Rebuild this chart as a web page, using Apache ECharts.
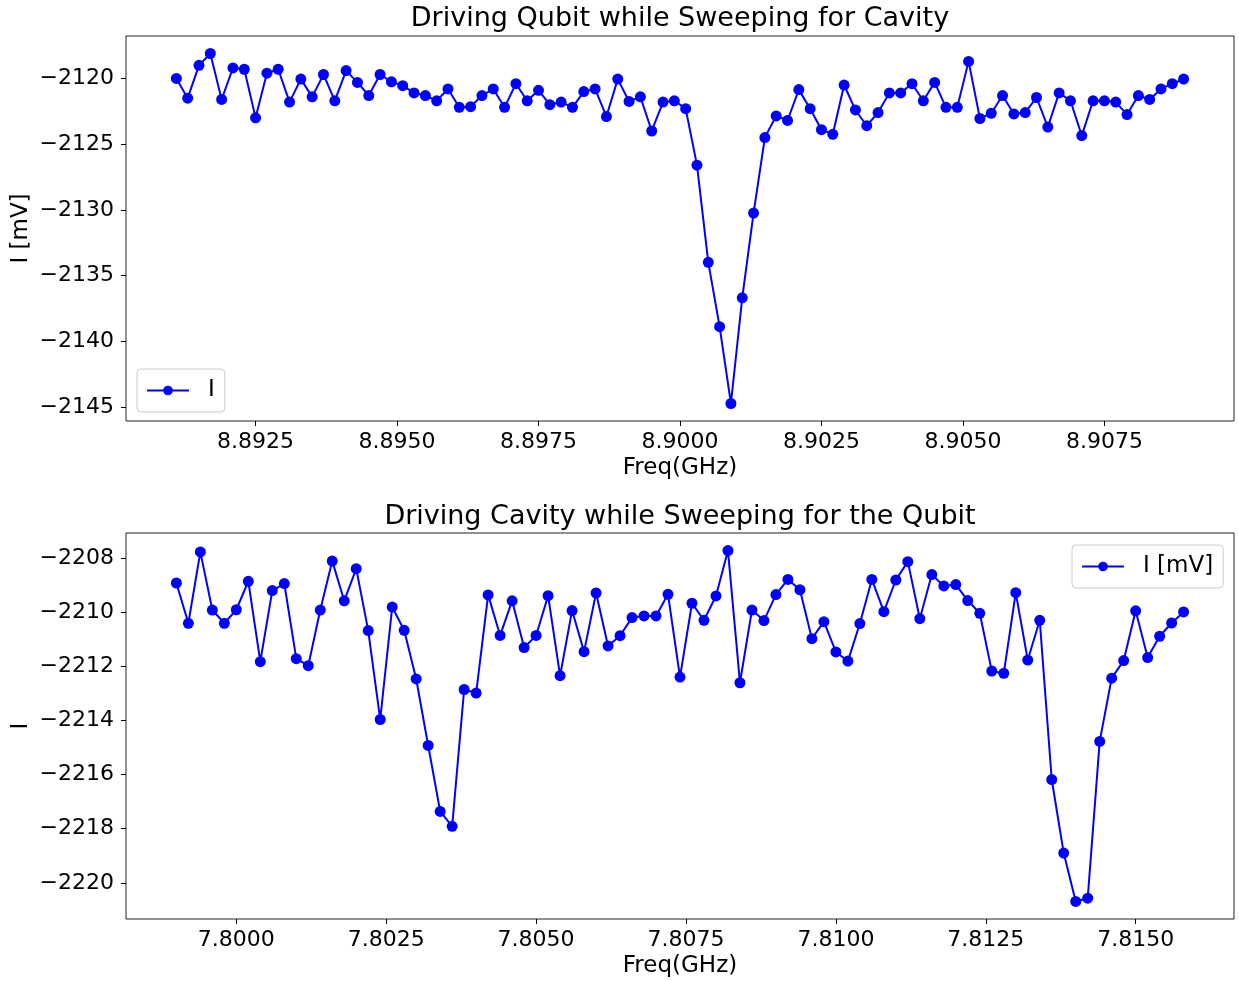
<!DOCTYPE html>
<html>
<head>
<meta charset="utf-8">
<title>Qubit / Cavity sweeps</title>
<script src="https://cdn.jsdelivr.net/npm/echarts@6/dist/echarts.min.js"></script>
<style>
  html, body { margin: 0; padding: 0; background: #fff; }
  #chart { width: 1239px; height: 981px; }
</style>
</head>
<body>
<div id="chart"></div>
<script>
// Sweep 1: driving the qubit, sweeping the cavity frequency (GHz)
const cavityFreq = [
  8.8911, 8.8913, 8.8915, 8.8917, 8.8919, 8.8921, 8.8923, 8.8925, 8.8927, 8.8929,
  8.8931, 8.8933, 8.8935, 8.8937, 8.8939, 8.8941, 8.8943, 8.8945, 8.8947, 8.8949,
  8.8951, 8.8953, 8.8955, 8.8957, 8.8959, 8.8961, 8.8963, 8.8965, 8.8967, 8.8969,
  8.8971, 8.8973, 8.8975, 8.8977, 8.8979, 8.8981, 8.8983, 8.8985, 8.8987, 8.8989,
  8.8991, 8.8993, 8.8995, 8.8997, 8.8999, 8.9001, 8.9003, 8.9005, 8.9007, 8.9009,
  8.9011, 8.9013, 8.9015, 8.9017, 8.9019, 8.9021, 8.9023, 8.9025, 8.9027, 8.9029,
  8.9031, 8.9033, 8.9035, 8.9037, 8.9039, 8.9041, 8.9043, 8.9045, 8.9047, 8.9049,
  8.9051, 8.9053, 8.9055, 8.9057, 8.9059, 8.9061, 8.9063, 8.9065, 8.9067, 8.9069,
  8.9071, 8.9073, 8.9075, 8.9077, 8.9079, 8.9081, 8.9083, 8.9085, 8.9087, 8.9089
];
// In-phase signal, mV
const cavityI = [
  -2120.0, -2121.5, -2119.0, -2118.1, -2121.6, -2119.2, -2119.3, -2123.0, -2119.6, -2119.3,
  -2121.8, -2120.05, -2121.4, -2119.7, -2121.7, -2119.4, -2120.3, -2121.3, -2119.7, -2120.25,
  -2120.55, -2121.1, -2121.3, -2121.7, -2120.8, -2122.2, -2122.15, -2121.3, -2120.8, -2122.2,
  -2120.4, -2121.7, -2120.9, -2122.0, -2121.8, -2122.2, -2121.0, -2120.8, -2122.9, -2120.05,
  -2121.75, -2121.4, -2124.0, -2121.8, -2121.7, -2122.3, -2126.6, -2134.0, -2138.9, -2144.75,
  -2136.7, -2130.25, -2124.5, -2122.85, -2123.2, -2120.85, -2122.3, -2123.9, -2124.25, -2120.5,
  -2122.4, -2123.6, -2122.6, -2121.1, -2121.1, -2120.4, -2121.7, -2120.3, -2122.2, -2122.2,
  -2118.7, -2123.05, -2122.65, -2121.3, -2122.7, -2122.6, -2121.45, -2123.7, -2121.1, -2121.7,
  -2124.35, -2121.7, -2121.7, -2121.8, -2122.75, -2121.3, -2121.6, -2120.8, -2120.4, -2120.05
];

// Sweep 2: driving the cavity, sweeping the qubit frequency (GHz)
const qubitFreq = [
  7.7990, 7.7992, 7.7994, 7.7996, 7.7998, 7.8000, 7.8002, 7.8004, 7.8006, 7.8008,
  7.8010, 7.8012, 7.8014, 7.8016, 7.8018, 7.8020, 7.8022, 7.8024, 7.8026, 7.8028,
  7.8030, 7.8032, 7.8034, 7.8036, 7.8038, 7.8040, 7.8042, 7.8044, 7.8046, 7.8048,
  7.8050, 7.8052, 7.8054, 7.8056, 7.8058, 7.8060, 7.8062, 7.8064, 7.8066, 7.8068,
  7.8070, 7.8072, 7.8074, 7.8076, 7.8078, 7.8080, 7.8082, 7.8084, 7.8086, 7.8088,
  7.8090, 7.8092, 7.8094, 7.8096, 7.8098, 7.8100, 7.8102, 7.8104, 7.8106, 7.8108,
  7.8110, 7.8112, 7.8114, 7.8116, 7.8118, 7.8120, 7.8122, 7.8124, 7.8126, 7.8128,
  7.8130, 7.8132, 7.8134, 7.8136, 7.8138, 7.8140, 7.8142, 7.8144, 7.8146, 7.8148,
  7.8150, 7.8152, 7.8154, 7.8156, 7.8158
];
const qubitI = [
  -2208.91, -2210.40, -2207.76, -2209.91, -2210.40, -2209.90, -2208.85, -2211.82, -2209.19, -2208.93,
  -2211.71, -2211.97, -2209.91, -2208.10, -2209.57, -2208.38, -2210.67, -2213.96, -2209.80, -2210.66,
  -2212.46, -2214.92, -2217.36, -2217.91, -2212.85, -2212.98, -2209.35, -2210.85, -2209.57, -2211.30,
  -2210.85, -2209.38, -2212.34, -2209.93, -2211.45, -2209.28, -2211.24, -2210.86, -2210.19, -2210.13,
  -2210.13, -2209.33, -2212.39, -2209.66, -2210.29, -2209.39, -2207.71, -2212.60, -2209.91, -2210.30,
  -2209.34, -2208.78, -2209.16, -2210.97, -2210.34, -2211.46, -2211.80, -2210.41, -2208.78, -2209.97,
  -2208.80, -2208.12, -2210.23, -2208.60, -2209.02, -2208.97, -2209.56, -2210.03, -2212.17, -2212.25,
  -2209.27, -2211.76, -2210.29, -2216.18, -2218.90, -2220.69, -2220.57, -2214.77, -2212.43, -2211.78,
  -2209.94, -2211.67, -2210.88, -2210.39, -2209.98
];

// Tick positions
const cavityFreqTicks = [8.8925, 8.8950, 8.8975, 8.9000, 8.9025, 8.9050, 8.9075];
const cavityITicks = [-2145, -2140, -2135, -2130, -2125, -2120];
const qubitFreqTicks = [7.8000, 7.8025, 7.8050, 7.8075, 7.8100, 7.8125, 7.8150];
const qubitITicks = [-2220, -2218, -2216, -2214, -2212, -2210, -2208];

const titles = ['Driving Qubit while Sweeping for Cavity', 'Driving Cavity while Sweeping for the Qubit'];
const xName = 'Freq(GHz)';
const yNames = ['I [mV]', 'I'];
const seriesNames = ['I', 'I [mV]'];

const FONT = '"DejaVu Sans", "Liberation Sans", sans-serif';
const BLUE = '#0000ff';
const TICK_FS = 22;
const NAME_FS = 23;
const TITLE_FS = 27;

// Axis limits padded by 5% of the data span on each side
function padded(arr) {
  const lo = Math.min(...arr), hi = Math.max(...arr);
  const m = (hi - lo) * 0.05;
  return [lo - m, hi + m];
}

const minus = v => (v < 0 ? '\u2212' : '') + Math.abs(v);

function xAxis(gridIndex, values, ticks) {
  const [lo, hi] = padded(values);
  return {
    type: 'value', gridIndex, min: lo, max: hi,
    name: xName, nameLocation: 'middle', nameGap: 36, nameMoveOverlap: false,
    nameTextStyle: { color: '#000', fontSize: NAME_FS, fontFamily: FONT },
    axisLine: { show: false },
    splitLine: { show: false },
    axisTick: { show: true, length: 5, customValues: ticks, lineStyle: { color: '#000', width: 1 } },
    axisLabel: {
      customValues: ticks, margin: 10, color: '#000', fontSize: TICK_FS, fontFamily: FONT,
      formatter: v => v.toFixed(4)
    }
  };
}

function yAxis(gridIndex, values, ticks, name) {
  const [lo, hi] = padded(values);
  return {
    type: 'value', gridIndex, min: lo, max: hi,
    name, nameLocation: 'middle', nameGap: 93, nameRotate: 90, nameMoveOverlap: false,
    nameTextStyle: { color: '#000', fontSize: NAME_FS, fontFamily: FONT },
    axisLine: { show: false },
    splitLine: { show: false },
    axisTick: { show: true, length: 5, customValues: ticks, lineStyle: { color: '#000', width: 1 } },
    axisLabel: {
      customValues: ticks, margin: 12, color: '#000', fontSize: TICK_FS, fontFamily: FONT,
      formatter: minus
    }
  };
}

function lineSeries(name, idx, xs, ys) {
  return {
    name, type: 'line', xAxisIndex: idx, yAxisIndex: idx,
    data: xs.map((x, i) => [x, ys[i]]),
    symbol: 'circle', symbolSize: 11, showSymbol: true,
    itemStyle: { color: BLUE },
    lineStyle: { color: BLUE, width: 2 },
    emphasis: { disabled: true },
    animation: false
  };
}

function legend(name, pos) {
  return Object.assign({
    data: [name],
    orient: 'horizontal',
    itemWidth: 42, itemHeight: 12,
    padding: [10, 10, 10, 9],
    backgroundColor: 'rgba(255,255,255,0.8)',
    borderColor: '#cccccc', borderWidth: 1, borderRadius: 4,
    textStyle: { color: '#000', fontSize: NAME_FS, fontFamily: FONT, padding: [0, 0, 0, 14] },
    selectedMode: false
  }, pos);
}

const gridBase = {
  left: 126, width: 1108, show: true, borderColor: '#222', borderWidth: 1,
  backgroundColor: 'transparent', containLabel: false, outerBoundsMode: 'none'
};

const chart = echarts.init(document.getElementById('chart'), null, { renderer: 'canvas' });
chart.setOption({
  backgroundColor: '#fff',
  animation: false,
  grid: [
    Object.assign({ top: 36, height: 385 }, gridBase),
    Object.assign({ top: 533, height: 386 }, gridBase)
  ],
  xAxis: [xAxis(0, cavityFreq, cavityFreqTicks), xAxis(1, qubitFreq, qubitFreqTicks)],
  yAxis: [yAxis(0, cavityI, cavityITicks, yNames[0]), yAxis(1, qubitI, qubitITicks, yNames[1])],
  legend: [
    legend(seriesNames[0], { left: 137, top: 369 }),
    legend(seriesNames[1], { left: 1072, top: 545 })
  ],
  graphic: [
    { type: 'text', x: 680, y: 19, silent: true,
      style: { text: titles[0], fill: '#000', font: TITLE_FS + 'px ' + FONT, textAlign: 'center', textVerticalAlign: 'middle' } },
    { type: 'text', x: 680, y: 517, silent: true,
      style: { text: titles[1], fill: '#000', font: TITLE_FS + 'px ' + FONT, textAlign: 'center', textVerticalAlign: 'middle' } }
  ],
  series: [
    lineSeries(seriesNames[0], 0, cavityFreq, cavityI),
    lineSeries(seriesNames[1], 1, qubitFreq, qubitI)
  ]
});
</script>
</body>
</html>
